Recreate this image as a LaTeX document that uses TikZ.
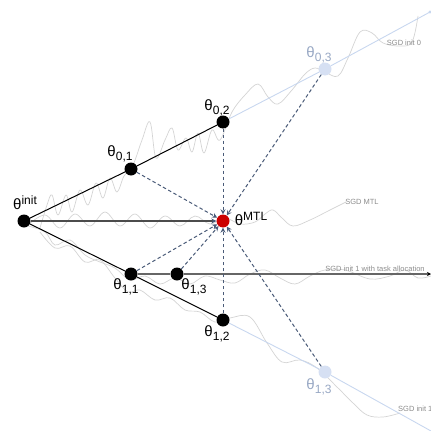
\documentclass[tikz,border=0pt]{standalone}
\usepackage{fontspec}
\setmainfont{Liberation Sans}
\usepackage{xcolor}
\usetikzlibrary{arrows.meta}

\definecolor{mtlred}{HTML}{CC0000}
\definecolor{fadeblue}{HTML}{D6E0F3}
\definecolor{fadetext}{HTML}{98A8C4}
\definecolor{dashblue}{HTML}{4A5B78}
\definecolor{pathblue}{HTML}{C8D7EF}
\definecolor{sgdgray}{HTML}{D4D4D4}

\newcommand{\thsub}[1]{θ\raisebox{-4pt}{\fontsize{12}{12}\selectfont #1}}
\newcommand{\thsup}[1]{θ\raisebox{5pt}{\fontsize{12}{12}\selectfont #1}}

\begin{document}
\begin{tikzpicture}[x=1pt,y=-1pt,
   step point/.style={circle,fill=black,inner sep=0pt,minimum size=13pt},
   faded point/.style={circle,fill=fadeblue,inner sep=0pt,minimum size=13pt},
   mtl point/.style={circle,fill=mtlred,inner sep=0pt,minimum size=13pt},
   step label/.style={font=\fontsize{15}{17}\selectfont,inner sep=0pt},
   faded label/.style={step label,text=fadetext},
   sgd label/.style={font=\fontsize{7.5}{8}\selectfont,text=black!45,inner sep=0pt},
   sgd path/.style={draw=sgdgray,line width=0.7pt},
   to mtl/.style={dashblue,line width=1pt,dash pattern=on 3.5pt off 2.5pt,
                  -{Stealth[length=5pt,width=5pt]}}]

  \useasboundingbox (0,0) rectangle (431,431);

  % SGD trajectories
  \draw[sgd path] plot[smooth,tension=0.6] coordinates {(40,228) (47,205) (52,195) (58,215) (66,195)
     (72,212) (80,190) (88,205) (96,183) (103,198) (110,178) (117,192) (124,176) (133,165) (142,140)
     (150,122) (156,158) (165,140) (172,128) (178,150) (186,138) (192,152) (198,133) (204,153)
     (212,130) (220,140) (232,112) (245,95) (258,84) (268,97) (278,104) (292,90) (305,74) (315,68)
     (325,72) (338,76) (348,58) (360,32) (372,33) (383,43) (400,46) (412,42) (418,16)};
  \draw[sgd path] plot[smooth,tension=0.6] coordinates {(28,225) (45,215) (60,228) (75,214) (90,226)
     (105,212) (120,226) (135,214) (150,228) (165,216) (180,226) (195,216) (210,224) (225,218)
     (240,224) (255,222) (265,214) (273,210) (282,218) (293,226) (310,220) (330,210) (346,202)};
  \draw[sgd path] plot[smooth,tension=0.6] coordinates {(28,226) (45,232) (55,245) (70,240) (85,255)
     (100,262) (115,268) (130,280) (145,276) (160,284) (175,278) (190,284) (205,276) (220,280)
     (235,283) (250,274) (265,270) (280,278) (295,284) (310,276) (325,270) (345,270) (370,279)
     (390,276) (405,270) (418,278) (431,276)};
  \draw[sgd path] plot[smooth,tension=0.6] coordinates {(40,232) (55,248) (70,246) (85,262) (100,260)
     (115,278) (128,292) (140,290) (155,300) (170,298) (185,310) (200,312) (215,322) (230,318)
     (250,317) (267,343) (282,362) (300,360) (317,368) (338,388) (353,403) (367,415) (383,417)
     (400,413)};

  \node[step point] (init) at (24,221) {};
  \node[step point] (a1) at (131,169) {};
  \node[step point] (a2) at (223,122) {};
  \node[faded point] (a3) at (325,69) {};
  \node[mtl point] (mtl) at (223,221) {};
  \node[step point] (b1) at (131,274) {};
  \node[step point] (b3) at (177,274) {};
  \node[step point] (b2) at (223,320) {};
  \node[faded point] (b4) at (325,372) {};

  \node[step label] (l init) at (25,203) {\thsup{init}};
  \node[step label] (l a1) at (120,154) {\thsub{0,1}};
  \node[step label] (l a2) at (217,108) {\thsub{0,2}};
  \node[faded label] (l a3) at (319,55) {\thsub{0,3}};
  \node[step label] (l mtl) at (251,219) {\thsup{MTL}};
  \node[step label] (l b1) at (126,287) {\thsub{1,1}};
  \node[step label] (l b3) at (194,287) {\thsub{1,3}};
  \node[step label] (l b2) at (217,334) {\thsub{1,2}};
  \node[faded label] (l b4) at (319,387) {\thsub{1,3}};

  \node[sgd label] (s init0) at (404,43) {SGD init 0};
  \node[sgd label] (s mtl) at (362,202) {SGD MTL};
  \node[sgd label] (s alloc) at (375,269) {SGD init 1 with task allocation};
  \node[sgd label,anchor=west] (s init1) at (398,409) {SGD init 1};

  \coordinate (end0) at (430,12);
  \coordinate (end1) at (431,431);
  \coordinate (alloc end) at (431,274);

  \draw[pathblue,line width=0.9pt] (a2) -- (a3) -- (end0);
  \fill[pathblue] (end0) circle (1.6pt);
  \draw[pathblue,line width=0.9pt] (b2) -- (b4) -- (end1);

  \foreach \from/\to in {init/a1,a1/a2,init/b1,b1/b2} \draw[line width=1pt] (\from) -- (\to);
  \draw[black!70,line width=1.1pt,-{Stealth[length=5pt,width=5pt,color=dashblue]}] (init) -- (mtl);
  \draw[black!60,line width=1.5pt] (b1) -- (b3);
  \draw[black!60,line width=1.5pt,-{Stealth[length=4pt,width=4pt,color=black]}] (b3) -- (alloc end);

  \foreach \from in {a1,a2,a3,b1,b3,b2,b4} \draw[to mtl] (\from) -- (mtl);
\end{tikzpicture}
\end{document}
